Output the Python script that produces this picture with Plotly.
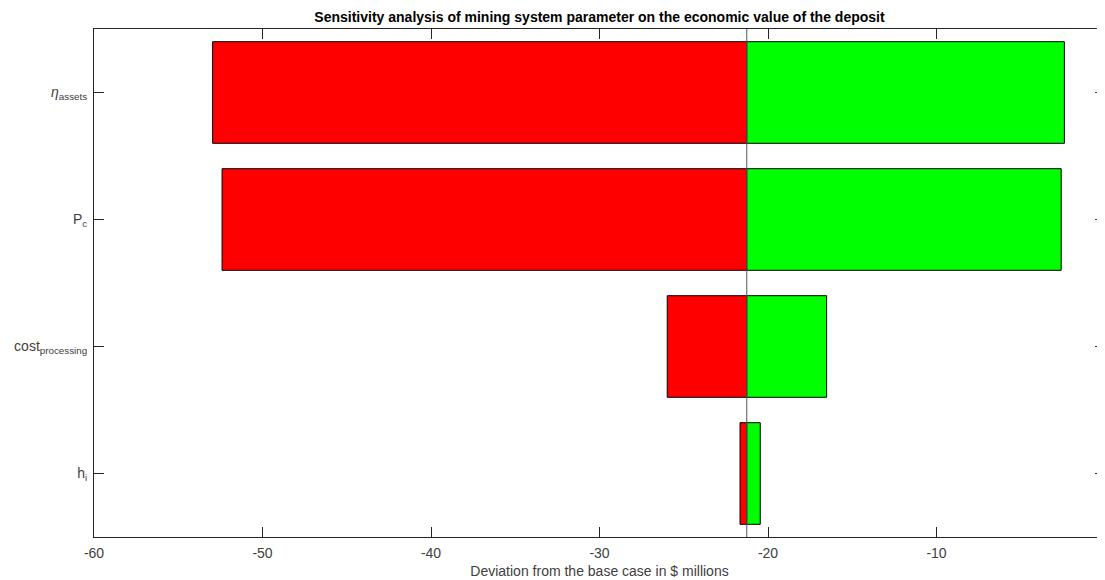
import plotly.graph_objects as go

categories = ["h_i", "cost_processing", "P_c", "eta_assets"]
tick_labels = ["h<sub>i</sub>", "cost<sub>processing</sub>", "P<sub>c</sub>", "<i>η</i><sub>assets</sub>"]
positions = [1, 2, 3, 4]
base_value = -21.26
low_values = [-21.66, -25.98, -52.4, -52.96]
high_values = [-20.46, -16.52, -2.6, -2.41]
x_ticks = [-60, -50, -40, -30, -20, -10, 0]
x_tick_text = ["-60", "-50", "-40", "-30", "-20", "-10", "0"]

fig = go.Figure()
fig.add_trace(go.Bar(
    y=positions, x=[v - base_value for v in low_values], base=base_value,
    orientation="h", width=0.8,
    marker=dict(color="#ff0000", line=dict(color="black", width=1)),
    showlegend=False, name="low"))
fig.add_trace(go.Bar(
    y=positions, x=[v - base_value for v in high_values], base=base_value,
    orientation="h", width=0.8,
    marker=dict(color="#00ff00", line=dict(color="black", width=1)),
    showlegend=False, name="high"))

fig.add_shape(type="line", xref="x", yref="paper", x0=base_value, x1=base_value,
              y0=0, y1=1, line=dict(color="#555555", width=1), layer="above")

fig.update_layout(
    width=1097, height=572,
    margin=dict(l=86, r=0, t=21, b=43),
    plot_bgcolor="white", paper_bgcolor="white",
    barmode="overlay",
    font=dict(family="Liberation Sans, Arial, sans-serif", size=14, color="#404040"),
    title=dict(text="<b>Sensitivity analysis of mining system parameter on the economic value of the deposit</b>",
               x=0.5, xref="paper", xanchor="center", y=1 - 9 / 572, yanchor="middle",
               font=dict(size=14, color="black")),
    xaxis=dict(range=[-60, 0], tickvals=x_ticks, ticktext=x_tick_text,
               ticks="inside", ticklen=10, tickcolor="#262626",
               showline=True, linecolor="#262626", linewidth=1, mirror="ticks",
               showgrid=False, zeroline=False, ticklabelstandoff=3,
               tickfont=dict(size=14, color="#404040"),
               title=dict(text="Deviation from the base case in $ millions", standoff=6,
                          font=dict(size=14, color="#404040"))),
    yaxis=dict(range=[0.5, 4.5], tickvals=positions, ticktext=tick_labels,
               ticks="inside", ticklen=10, tickcolor="#262626",
               showline=True, linecolor="#262626", linewidth=1, mirror="ticks",
               showgrid=False, zeroline=False, ticklabelstandoff=3,
               tickfont=dict(size=14, color="#404040")),
)

fig.write_html("out.html")
